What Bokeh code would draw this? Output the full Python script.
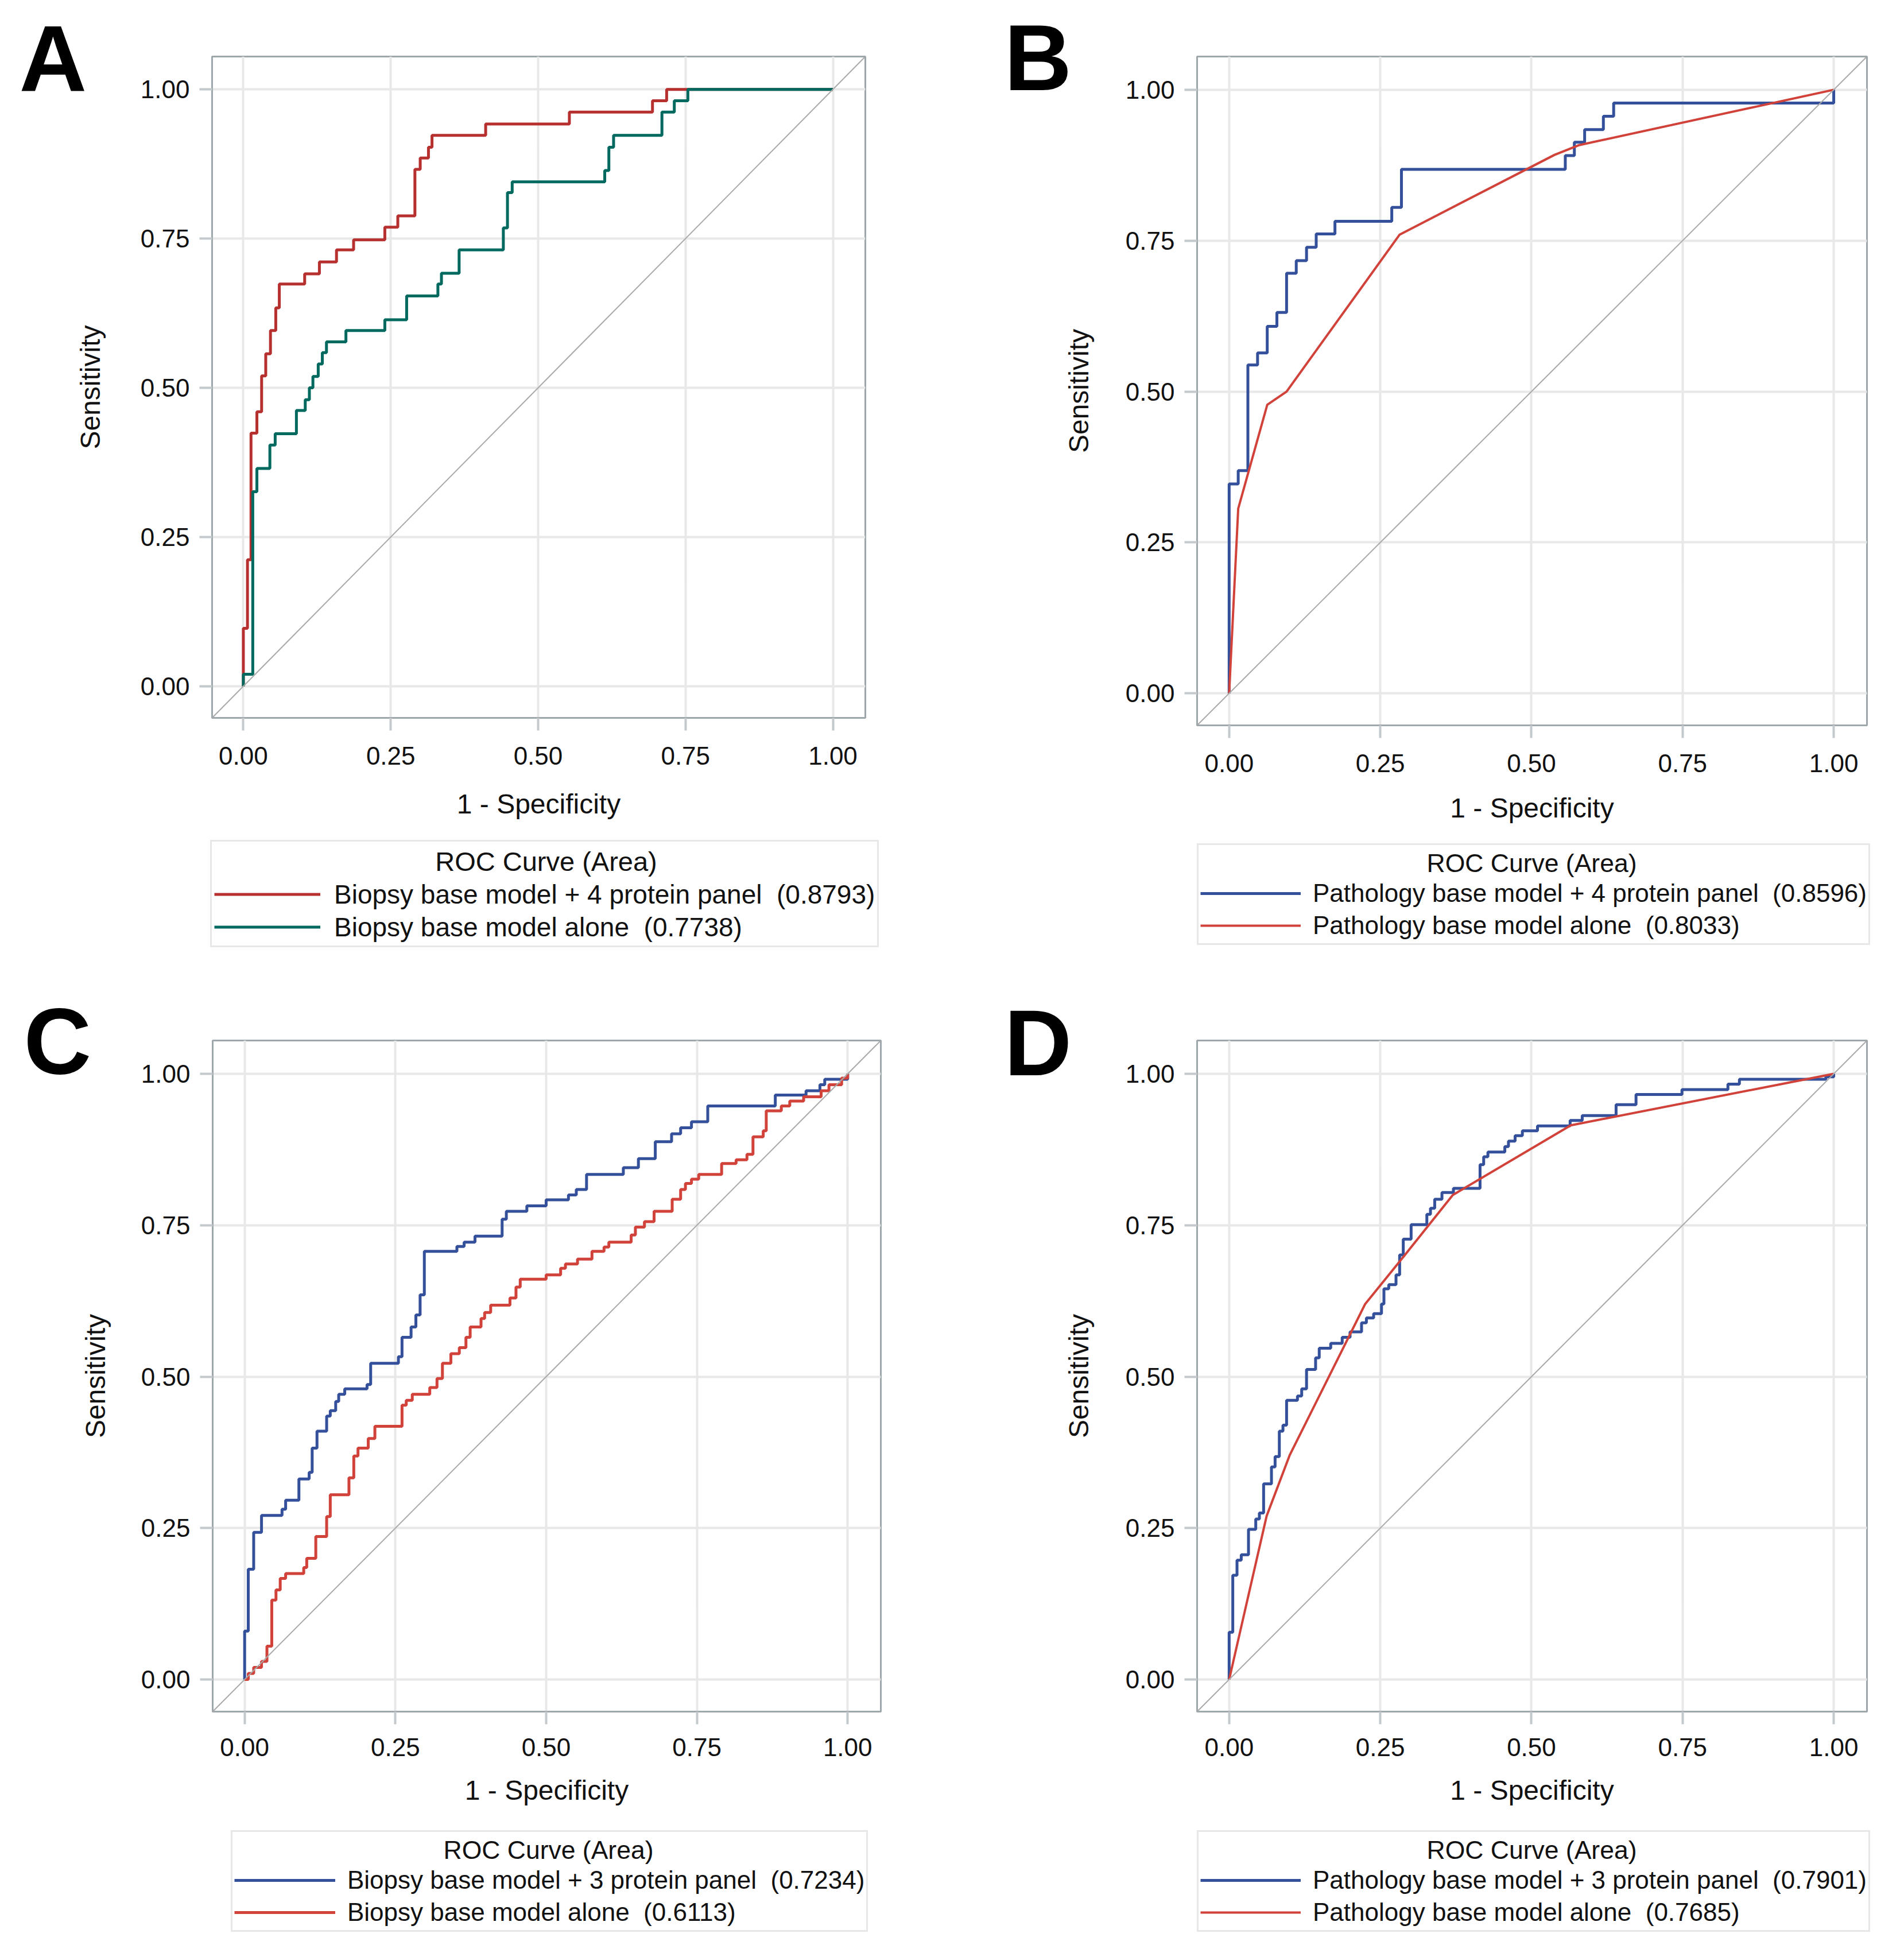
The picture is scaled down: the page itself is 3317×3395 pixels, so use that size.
from bokeh.plotting import figure
from bokeh.models import Legend, LegendItem, Label, FixedTicker, Range1d, Slope
from bokeh.layouts import column, row
from bokeh.embed import file_html
from bokeh.resources import INLINE

# ---------------- data ----------------
tick_values = [0.0, 0.25, 0.5, 0.75, 1.0]
tick_labels = ["0.00", "0.25", "0.50", "0.75", "1.00"]
x_title = "1 - Specificity"
y_title = "Sensitivity"
legend_title = "ROC Curve (Area)"
panel_letters = ["A", "B", "C", "D"]

# Panel A
a_names = ["Biopsy base model + 4 protein panel  (0.8793)", "Biopsy base model alone  (0.7738)"]
a1_fpr = [0, 0, 0.007, 0.013, 0.023, 0.031, 0.038, 0.046, 0.055, 0.061, 0.104, 0.129, 0.158, 0.187,
          0.240, 0.262, 0.291, 0.300, 0.314, 0.320, 0.411, 0.553, 0.694, 0.718, 1.0]
a1_tpr = [0, 0.097, 0.212, 0.424, 0.46, 0.52, 0.557, 0.596, 0.634, 0.674, 0.691, 0.711, 0.731, 0.748,
          0.769, 0.788, 0.866, 0.885, 0.903, 0.923, 0.942, 0.962, 0.981, 1.0, 1.0]
a2_fpr = [0, 0, 0.016, 0.023, 0.045, 0.054, 0.090, 0.105, 0.112, 0.118, 0.127, 0.134, 0.141, 0.174,
          0.240, 0.277, 0.330, 0.336, 0.366, 0.441, 0.448, 0.456, 0.613, 0.620, 0.628, 0.710, 0.731,
          0.754, 1.0]
a2_tpr = [0, 0.02, 0.326, 0.365, 0.404, 0.423, 0.462, 0.48, 0.5, 0.519, 0.54, 0.559, 0.577, 0.596,
          0.614, 0.654, 0.674, 0.692, 0.731, 0.768, 0.827, 0.845, 0.864, 0.903, 0.923, 0.962, 0.981,
          1.0, 1.0]

# Panel B
b_names = ["Pathology base model + 4 protein panel  (0.8596)", "Pathology base model alone  (0.8033)"]
b1_fpr = [0, 0, 0.015, 0.031, 0.047, 0.063, 0.079, 0.095, 0.111, 0.128, 0.144, 0.175, 0.269, 0.285,
          0.556, 0.571, 0.588, 0.619, 0.636, 1.0]
b1_tpr = [0, 0.347, 0.369, 0.544, 0.564, 0.608, 0.631, 0.696, 0.717, 0.739, 0.761, 0.782, 0.805, 0.868,
          0.891, 0.913, 0.934, 0.956, 0.978, 1.0]
b2_fpr = [0, 0.015, 0.063, 0.095, 0.282, 0.538, 0.578, 1.0]
b2_tpr = [0, 0.306, 0.478, 0.5, 0.760, 0.892, 0.908, 1.0]

# Panel C
c_names = ["Biopsy base model + 3 protein panel  (0.7234)", "Biopsy base model alone  (0.6113)"]
c1_fpr = [0, 0, 0.006, 0.015, 0.028, 0.062, 0.068, 0.09, 0.107, 0.112, 0.120, 0.136, 0.142, 0.151,
          0.156, 0.166, 0.203, 0.209, 0.255, 0.261, 0.276, 0.284, 0.291, 0.298, 0.352, 0.364, 0.382,
          0.427, 0.434, 0.468, 0.5, 0.537, 0.550, 0.567, 0.628, 0.653, 0.681, 0.708, 0.723, 0.741,
          0.768, 0.880, 0.931, 0.954, 0.962, 1.0]
c1_tpr = [0, 0.08, 0.182, 0.243, 0.271, 0.281, 0.296, 0.331, 0.342, 0.382, 0.41, 0.435, 0.444, 0.459,
          0.471, 0.480, 0.487, 0.522, 0.533, 0.565, 0.582, 0.602, 0.635, 0.707, 0.715, 0.722, 0.732,
          0.760, 0.773, 0.782, 0.792, 0.8, 0.809, 0.834, 0.845, 0.86, 0.888, 0.901, 0.911, 0.921,
          0.947, 0.965, 0.972, 0.982, 0.991, 1.0]
c2_fpr = [0, 0.006, 0.015, 0.028, 0.037, 0.045, 0.052, 0.059, 0.068, 0.098, 0.103, 0.118, 0.136, 0.142,
          0.173, 0.181, 0.188, 0.205, 0.216, 0.261, 0.268, 0.278, 0.307, 0.319, 0.328, 0.342, 0.356,
          0.367, 0.374, 0.392, 0.398, 0.408, 0.440, 0.450, 0.457, 0.5, 0.524, 0.532, 0.552, 0.576,
          0.596, 0.604, 0.641, 0.648, 0.663, 0.679, 0.709, 0.723, 0.731, 0.741, 0.753, 0.791, 0.815,
          0.833, 0.843, 0.860, 0.865, 0.890, 0.904, 0.927, 0.956, 0.969, 0.990, 1.0]
c2_tpr = [0, 0.01, 0.02, 0.03, 0.055, 0.131, 0.148, 0.167, 0.175, 0.185, 0.20, 0.236, 0.269, 0.305,
          0.333, 0.369, 0.382, 0.398, 0.418, 0.453, 0.461, 0.471, 0.482, 0.497, 0.522, 0.538, 0.548,
          0.565, 0.582, 0.596, 0.606, 0.618, 0.630, 0.648, 0.661, 0.668, 0.679, 0.686, 0.694, 0.707,
          0.714, 0.722, 0.734, 0.747, 0.756, 0.773, 0.793, 0.809, 0.819, 0.826, 0.834, 0.852, 0.858,
          0.867, 0.896, 0.906, 0.939, 0.947, 0.955, 0.962, 0.972, 0.982, 0.993, 1.0]

# Panel D
d_names = ["Pathology base model + 3 protein panel  (0.7901)", "Pathology base model alone  (0.7685)"]
d1_fpr = [0, 0, 0.006, 0.013, 0.020, 0.032, 0.044, 0.050, 0.057, 0.070, 0.076, 0.083, 0.089, 0.095,
          0.113, 0.120, 0.128, 0.143, 0.149, 0.168, 0.187, 0.200, 0.219, 0.227, 0.239, 0.252, 0.256,
          0.264, 0.276, 0.282, 0.288, 0.301, 0.327, 0.333, 0.340, 0.352, 0.371, 0.415, 0.421, 0.428,
          0.456, 0.462, 0.473, 0.485, 0.510, 0.564, 0.584, 0.640, 0.673, 0.749, 0.825, 0.844, 0.987, 1.0]
d1_tpr = [0, 0.078, 0.172, 0.197, 0.206, 0.248, 0.265, 0.275, 0.323, 0.351, 0.368, 0.41, 0.420, 0.461,
          0.468, 0.480, 0.512, 0.531, 0.547, 0.555, 0.565, 0.574, 0.589, 0.597, 0.604, 0.620, 0.645,
          0.652, 0.668, 0.701, 0.727, 0.751, 0.768, 0.778, 0.793, 0.804, 0.811, 0.85, 0.863, 0.871,
          0.880, 0.889, 0.898, 0.906, 0.914, 0.923, 0.931, 0.949, 0.966, 0.974, 0.983, 0.991, 0.995, 1.0]
d2_fpr = [0, 0.062, 0.10, 0.225, 0.29, 0.37, 0.565, 1.0]
d2_tpr = [0, 0.27, 0.37, 0.62, 0.70, 0.80, 0.915, 1.0]

# ---------------- styling ----------------
FONT = "Liberation Sans"
RED_A = "#B5302E"
TEAL = "#00695F"
BLUE = "#34509A"
RED = "#D0423A"
FRAME = "#9EA7AB"
GRID = "#E8E8E8"
LEG_BORDER = "#CFCFCF"
AX_RANGE = (-0.053, 1.055)


def draw_series(p, s1, s2, colors, steps2):
    r1 = p.step(x=s1[0], y=s1[1], mode="after", line_color=colors[0], line_width=5)
    if steps2:
        r2 = p.step(x=s2[0], y=s2[1], mode="after", line_color=colors[1], line_width=5)
    else:
        r2 = p.line(x=s2[0], y=s2[1], line_color=colors[1], line_width=4)
    return r1, r2


def make_panel(letter, names, s1, s2, colors, steps2, fw, fh, bl, br, bt, bb, let_pos,
               x_std, y_std, leg_h, leg):
    p = figure(frame_width=fw, frame_height=fh,
               min_border_left=bl, min_border_right=br, min_border_top=bt, min_border_bottom=bb,
               x_range=Range1d(*AX_RANGE), y_range=Range1d(*AX_RANGE),
               output_backend="svg", toolbar_location=None,
               background_fill_color="white", border_fill_color="white")
    p.outline_line_color = FRAME
    p.outline_line_width = 3
    for ax in (p.xaxis[0], p.yaxis[0]):
        ax.ticker = FixedTicker(ticks=tick_values)
        ax.major_label_overrides = dict(zip(tick_values, tick_labels))
        ax.axis_line_color = FRAME
        ax.axis_line_width = 3
        ax.major_tick_line_color = "#C3C9CC"
        ax.major_tick_line_width = 4
        ax.major_tick_out = 22
        ax.major_tick_in = 0
        ax.minor_tick_line_color = None
        ax.major_label_text_font = FONT
        ax.major_label_text_font_size = "44px"
        ax.major_label_text_color = "#111111"
        ax.axis_label_text_font = FONT
        ax.axis_label_text_font_size = "48px"
        ax.axis_label_text_font_style = "normal"
        ax.axis_label_text_color = "#111111"
    p.xaxis.axis_label = x_title
    p.yaxis.axis_label = y_title
    p.xaxis.major_label_standoff = x_std[0]
    p.xaxis.axis_label_standoff = x_std[1]
    p.yaxis.major_label_standoff = 17
    p.yaxis.axis_label_standoff = y_std
    p.yaxis.major_label_orientation = "horizontal"
    for g in (p.xgrid[0], p.ygrid[0]):
        g.ticker = FixedTicker(ticks=tick_values)
        g.grid_line_color = GRID
        g.grid_line_width = 4

    p.add_layout(Slope(gradient=1, y_intercept=0, line_color="#A9A9A9", line_width=2))
    draw_series(p, s1, s2, colors, steps2)

    p.add_layout(Label(x=let_pos[0], y=let_pos[1], x_units="screen", y_units="screen",
                       text=letter, text_font=FONT, text_font_style="bold",
                       text_font_size="163px", text_color="black", text_baseline="alphabetic"),
                 "left")

    # legend strip under the plot (its lines lie outside the strip's range; only the legend shows)
    total_w = bl + fw + br
    q = figure(width=total_w, height=leg_h, x_range=Range1d(0, 1), y_range=Range1d(5, 6),
               x_axis_location=None, y_axis_location=None, min_border=0,
               output_backend="svg", toolbar_location=None,
               background_fill_color="white", border_fill_color="white")
    q.outline_line_color = None
    q.grid.visible = False
    r1, r2 = draw_series(q, s1, s2, colors, steps2)
    lg = Legend(items=[LegendItem(label=names[0], renderers=[r1]),
                       LegendItem(label=names[1], renderers=[r2])],
                location=leg["loc"], title=" ", orientation="vertical",
                label_text_font=FONT, label_text_font_size=leg["fs"], label_text_color="#111111",
                title_text_font=FONT, title_text_font_size=leg["tfs"],
                title_standoff=leg["tstd"], glyph_width=leg["gw"], glyph_height=leg["gh"],
                label_standoff=leg["lstd"], spacing=0, padding=leg["pad"], margin=0,
                border_line_color=LEG_BORDER, border_line_width=3, background_fill_alpha=0.0)
    q.add_layout(lg, "center")
    q.add_layout(Label(x=leg["tpos"][0], y=leg["tpos"][1], x_units="screen", y_units="screen",
                       text=legend_title, text_font=FONT, text_font_size=leg["tfs"],
                       text_color="#111111", text_align="center", text_baseline="alphabetic"))
    return p, q


legA = dict(loc=(366, 50), fs="46px", tfs="47px", tstd=4, gw=185, gh=57, lstd=24, pad=4, tpos=(951, 200))
legB = dict(loc=(2085 - 1660, 54), fs="44px", tfs="44.5px", tstd=3, gw=175, gh=56, lstd=21, pad=3,
            tpos=(1008, 197))
legC = dict(loc=(402, 22), fs="44px", tfs="44.5px", tstd=3, gw=176, gh=56, lstd=21, pad=3, tpos=(955, 165))
legD = dict(loc=(2085 - 1660, 22), fs="44px", tfs="44.5px", tstd=3, gw=175, gh=56, lstd=21, pad=3,
            tpos=(1008, 165))

pA, qA = make_panel(panel_letters[0], a_names, (a1_fpr, a1_tpr), (a2_fpr, a2_tpr), (RED_A, TEAL), True,
                    1138, 1152, 369, 153, 98, 210, (24, 1148), (28, 39), 58, 240, legA)
pB, qB = make_panel(panel_letters[1], b_names, (b1_fpr, b1_tpr), (b2_fpr, b2_tpr), (BLUE, RED), False,
                    1167, 1165, 425, 57, 98, 197, (18, 1163), (28, 33), 52, 240, legB)
pC, qC = make_panel(panel_letters[2], c_names, (c1_fpr, c1_tpr), (c2_fpr, c2_tpr), (BLUE, RED), True,
                    1164, 1169, 370, 126, 112, 200, (23, 1168), (24, 30), 50, 206, legC)
pD, qD = make_panel(panel_letters[3], d_names, (d1_fpr, d1_tpr), (d2_fpr, d2_tpr), (BLUE, RED), False,
                    1167, 1169, 425, 57, 112, 200, (18, 1165), (24, 30), 52, 206, legD)

layout = column(row(pA, pB), row(qA, qB), row(pC, pD), row(qC, qD))
open("out.html", "w").write(file_html(layout, INLINE))
